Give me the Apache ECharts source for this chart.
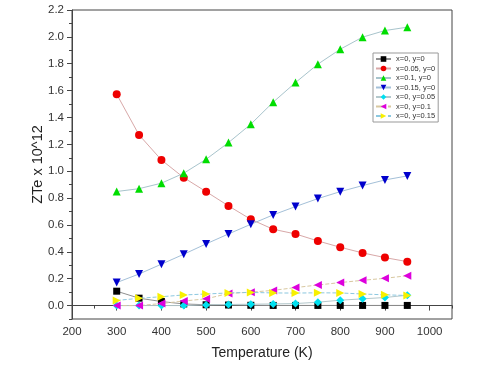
<!DOCTYPE html>
<html>
<head>
<meta charset="utf-8">
<script src="https://cdn.jsdelivr.net/npm/echarts@6/dist/echarts.min.js"></script>
<style>html,body{margin:0;padding:0;background:#fff;}#c{width:480px;height:367px;}</style>
</head>
<body>
<div id="c"></div>
<script>
const temperatures = [300, 350, 400, 450, 500, 550, 600, 650, 700, 750, 800, 850, 900, 950];
const seriesNames = ['x=0, y=0', 'x=0.05, y=0', 'x=0.1, y=0', 'x=0.15, y=0', 'x=0, y=0.05', 'x=0, y=0.1', 'x=0, y=0.15'];
const s_x0_y0    = [0.107, 0.055, 0.030, 0.012, 0.006, 0.004, 0.002, 0.001, 0.001, 0.001, 0.001, 0.001, 0.001, 0.001];
const s_x005_y0  = [1.573, 1.270, 1.084, 0.952, 0.848, 0.742, 0.642, 0.568, 0.533, 0.481, 0.434, 0.392, 0.357, 0.327];
const s_x01_y0   = [0.849, 0.870, 0.911, 0.985, 1.089, 1.213, 1.350, 1.514, 1.660, 1.797, 1.908, 1.998, 2.047, 2.072];
const s_x015_y0  = [0.171, 0.235, 0.308, 0.382, 0.459, 0.533, 0.605, 0.675, 0.737, 0.796, 0.848, 0.893, 0.935, 0.965];
const s_x0_y005  = [0.000, 0.000, 0.000, 0.000, 0.005, 0.008, 0.010, 0.012, 0.015, 0.025, 0.040, 0.050, 0.060, 0.077];
const s_x0_y01   = [0.000, 0.000, 0.015, 0.034, 0.050, 0.090, 0.100, 0.113, 0.134, 0.153, 0.171, 0.188, 0.203, 0.222];
const s_x0_y015  = [0.038, 0.054, 0.066, 0.079, 0.086, 0.094, 0.098, 0.094, 0.093, 0.095, 0.094, 0.086, 0.080, 0.075];
const xTickLabels = [200, 300, 400, 500, 600, 700, 800, 900, 1000];
const xMinorTicks = [250, 350, 450, 550, 650, 750, 850, 950, 1050];
const yTickLabels = [0, 0.2, 0.4, 0.6, 0.8, 1.0, 1.2, 1.4, 1.6, 1.8, 2.0, 2.2];
const yMinorTicks = [-0.1, 0.1, 0.3, 0.5, 0.7, 0.9, 1.1, 1.3, 1.5, 1.7, 1.9, 2.1];

const allValues = [s_x0_y0, s_x005_y0, s_x01_y0, s_x015_y0, s_x0_y005, s_x0_y01, s_x0_y015];
const markerColors = ['#000000', '#ee0000', '#00dd00', '#0000cc', '#00e0f0', '#dd00dd', '#f8f000'];
const lineColors = ['#909090', '#d8a8a8', '#a8c4cc', '#a4c0d8', '#b4c8cc', '#d8c8a0', '#8cc8e0'];
const lineTypes = ['solid', 'solid', 'solid', 'solid', 'solid', 'dashed', 'dashed'];
const symbols = ['rect', 'circle', 'triangle', 'triangle', 'diamond', 'triangle', 'triangle'];
const rotates = [0, 0, 0, 180, 0, 90, -90];
const sizes = [7, 8, 8, 8, 8, 8, 8];

const chart = echarts.init(document.getElementById('c'), null, {renderer: 'canvas'});
const font = 'Liberation Sans, Arial, sans-serif';
const series = allValues.map((vals, i) => ({
  name: seriesNames[i],
  type: 'line',
  data: temperatures.map((t, j) => [t, vals[j]]),
  symbol: symbols[i],
  symbolSize: sizes[i],
  symbolRotate: rotates[i],
  itemStyle: {color: markerColors[i]},
  lineStyle: {color: lineColors[i], width: 1, type: lineTypes[i]},
  z: 2 + i,
  animation: false
}));

chart.setOption({
  animation: false,
  backgroundColor: '#fff',
  grid: {left: 72, top: 10, width: 380, height: 309, show: true, borderColor: '#444', borderWidth: 1, backgroundColor: 'transparent'},
  legend: {
    orient: 'vertical', left: 373, top: 53,
    itemWidth: 15, itemHeight: 7, itemGap: 1.5,
    padding: [2, 3, 2, 2],
    borderColor: '#999', borderWidth: 1, backgroundColor: '#fff',
    textStyle: {fontSize: 7.5, color: '#333', fontFamily: font},
    data: seriesNames
  },
  xAxis: [{
    type: 'value', min: 200, max: 1050, position: 'bottom',
    axisLine: {show: true, lineStyle: {color: '#444', width: 1}},
    axisTick: {show: true, customValues: xTickLabels, length: 5, inside: false, lineStyle: {color: '#444'}},
    axisLabel: {customValues: xTickLabels, fontSize: 11.5, color: '#333', fontFamily: font, margin: 7,
      formatter: v => String(v)},
    splitLine: {show: false},
    name: 'Temperature (K)', nameLocation: 'middle', nameGap: 27, nameMoveOverlap: false,
    nameTextStyle: {fontSize: 14, color: '#222', fontFamily: font}
  }, {
    type: 'value', min: 200, max: 1050, position: 'bottom',
    axisLine: {show: false},
    axisTick: {show: true, customValues: xMinorTicks, length: 3, inside: false, lineStyle: {color: '#444'}},
    axisLabel: {show: false},
    splitLine: {show: false}
  }],
  yAxis: [{
    type: 'value', min: -0.1, max: 2.2, position: 'left',
    axisLine: {show: true, lineStyle: {color: '#444', width: 1}},
    axisTick: {show: true, customValues: yTickLabels, length: 5, inside: false, lineStyle: {color: '#444'}},
    axisLabel: {customValues: yTickLabels, fontSize: 11.5, color: '#333', fontFamily: font, margin: 8,
      formatter: v => v.toFixed(1)},
    splitLine: {show: false},
    name: 'ZTe x 10^12', nameLocation: 'middle', nameGap: 27, nameRotate: 90, nameMoveOverlap: false,
    nameTextStyle: {fontSize: 14.5, color: '#222', fontFamily: font}
  }, {
    type: 'value', min: -0.1, max: 2.2, position: 'left',
    axisLine: {show: false},
    axisTick: {show: true, customValues: yMinorTicks, length: 3, inside: false, lineStyle: {color: '#444'}},
    axisLabel: {show: false},
    splitLine: {show: false}
  }],
  series: series
});
</script>
</body>
</html>
